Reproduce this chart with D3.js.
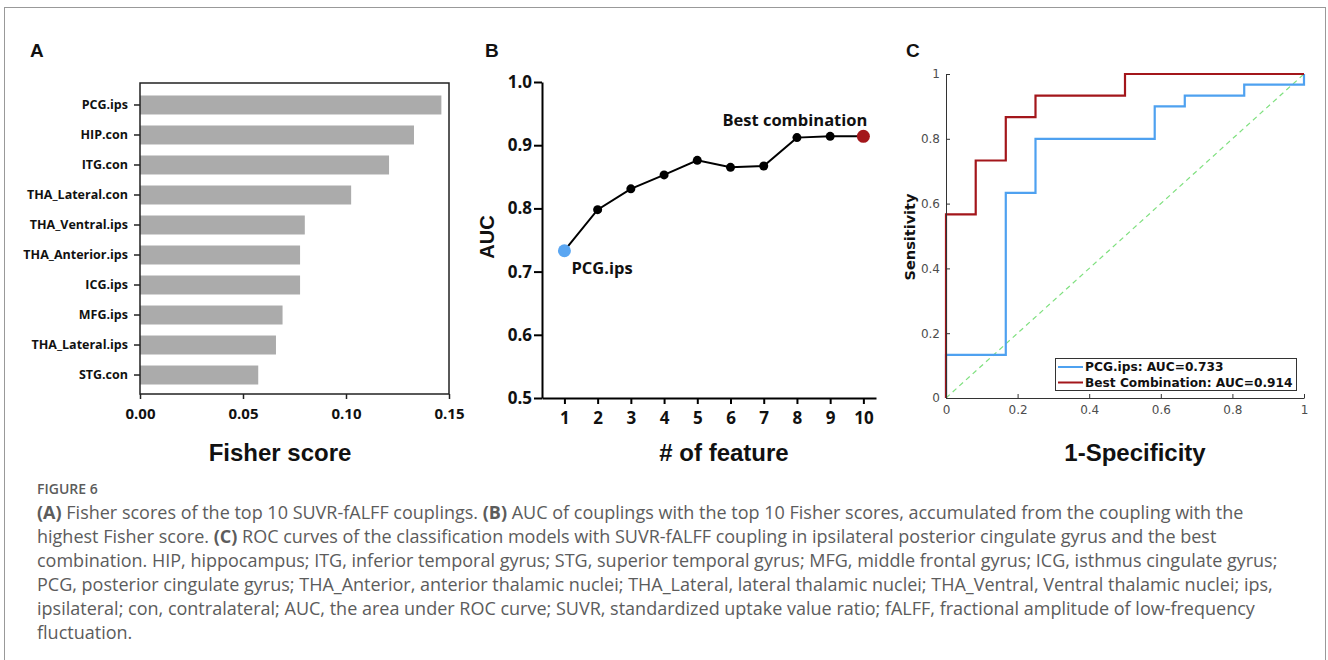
<!DOCTYPE html>
<html>
<meta charset="UTF-8">
<style>
body { margin: 0; background: #fff; }
svg { display: block; }

.axisA text { font-family: "Open Sans"; font-weight: bold; fill: #111; }
.axisA line { stroke: #222; stroke-width: 1.5px; }
.axisB text { font-family: "Open Sans"; font-weight: bold; fill: #111; font-size: 17px; }
.axisB line, .axisB path { stroke: #000; stroke-width: 2px; }
.axisC text { font-family: "DejaVu Sans"; font-size: 12px; fill: #4d4d4d; }
.axisC line, .axisC path { stroke: #333; stroke-width: 1px; }

.title { font-family: "Liberation Sans"; font-weight: bold; fill: #111; }
.caption { font-family: "Open Sans"; font-size: 18px; fill: #5c5c5c; }
</style>
<svg width="1328" height="660"></svg>
<script src="https://d3js.org/d3.v7.min.js"></script>
<script>
//	panel A : fisher scores
var regions = ["PCG.ips", "HIP.con", "ITG.con", "THA_Lateral.con", "THA_Ventral.ips",
	"THA_Anterior.ips", "ICG.ips", "MFG.ips", "THA_Lateral.ips", "STG.con"];
var fisherScores = [0.1463, 0.1330, 0.1209, 0.1025, 0.0800, 0.0777, 0.0777, 0.0692, 0.0660, 0.0574];
var fisherTicks = [0, 0.05, 0.10, 0.15];

//	panel B : AUC by number of features
var featureCounts = [1, 2, 3, 4, 5, 6, 7, 8, 9, 10];
var aucValues = [0.733, 0.798, 0.831, 0.853, 0.876, 0.865, 0.867, 0.912, 0.914, 0.914];
var aucTicks = [0.5, 0.6, 0.7, 0.8, 0.9, 1.0];

//	panel C : ROC corner points (step after)
var pcgFpr = [0, 0, 0.167, 0.25, 0.583, 0.667, 0.833, 1];
var pcgTpr = [0, 0.133, 0.633, 0.8, 0.9, 0.933, 0.967, 1];
var bestFpr = [0, 0, 0.083, 0.167, 0.25, 0.5, 1];
var bestTpr = [0, 0.567, 0.733, 0.867, 0.933, 1, 1];
var rocTicks = [0, 0.2, 0.4, 0.6, 0.8, 1];
var legendLabels = ["PCG.ips: AUC=0.733", "Best Combination: AUC=0.914"];
var rocColors = ["#4ea1f0", "#a3161b"];

//	caption
var captionHead = "FIGURE 6";
var captionLines = [
	"(A) Fisher scores of the top 10 SUVR-fALFF couplings. (B) AUC of couplings with the top 10 Fisher scores, accumulated from the coupling with the",
	"highest Fisher score. (C) ROC curves of the classification models with SUVR-fALFF coupling in ipsilateral posterior cingulate gyrus and the best",
	"combination. HIP, hippocampus; ITG, inferior temporal gyrus; STG, superior temporal gyrus; MFG, middle frontal gyrus; ICG, isthmus cingulate gyrus;",
	"PCG, posterior cingulate gyrus; THA_Anterior, anterior thalamic nuclei; THA_Lateral, lateral thalamic nuclei; THA_Ventral, Ventral thalamic nuclei; ips,",
	"ipsilateral; con, contralateral; AUC, the area under ROC curve; SUVR, standardized uptake value ratio; fALFF, fractional amplitude of low-frequency",
	"fluctuation."
];

var svg = d3.select("svg");

//	outer frame
svg.append("rect")
	.attr("x", 4.5).attr("y", 7.5)
	.attr("width", 1321).attr("height", 700)
	.attr("fill", "none").attr("stroke", "#999");

//	panel letters
[["A", 30], ["B", 485], ["C", 906]].forEach(function(p) {
	svg.append("text").attr("class", "title")
		.attr("x", p[1]).attr("y", 57)
		.style("font-size", "19px")
		.text(p[0]);
});

// ---------- panel A ----------
var gA = svg.append("g");
var xA = d3.scaleLinear().domain([0, 0.15]).range([140, 449]);
var yA = d3.scaleBand().domain(regions).range([90, 390])
	.paddingInner(0.367).paddingOuter(0.183);

gA.selectAll(".bar")
	.data(regions)
	.enter().append("rect")
	.attr("class", "bar")
	.attr("x", xA(0))
	.attr("y", function(d) { return yA(d); })
	.attr("width", function(d, i) { return xA(fisherScores[i]) - xA(0); })
	.attr("height", yA.bandwidth())
	.attr("fill", "#ababab");

gA.append("rect")
	.attr("x", 140).attr("y", 83)
	.attr("width", 309).attr("height", 311)
	.attr("fill", "none").attr("stroke", "#222").attr("stroke-width", 1.5);

gA.append("g").attr("class", "axisA")
	.attr("transform", "translate(140,0)")
	.call(d3.axisLeft(yA).tickSize(6).tickPadding(6))
	.call(function(g) { g.select(".domain").remove(); })
	.selectAll("text").style("font-size", "12.5px");

gA.append("g").attr("class", "axisA")
	.attr("transform", "translate(0,394)")
	.call(d3.axisBottom(xA).tickValues(fisherTicks).tickFormat(d3.format(".2f")).tickSize(5).tickPadding(9))
	.call(function(g) { g.select(".domain").remove(); })
	.selectAll("text").style("font-size", "15px");

gA.append("text").attr("class", "title")
	.attr("x", 280).attr("y", 461)
	.attr("text-anchor", "middle")
	.style("font-size", "24px")
	.text("Fisher score");

// ---------- panel B ----------
var gB = svg.append("g");
var xB = d3.scaleLinear().domain([0.325, 10.38]).range([542, 876]);
var yB = d3.scaleLinear().domain([0.5, 1.0]).range([398, 82]);

gB.append("g").attr("class", "axisB")
	.attr("transform", "translate(0,398)")
	.call(d3.axisBottom(xB).tickValues(featureCounts).tickSize(6).tickSizeOuter(0).tickPadding(8));

gB.append("g").attr("class", "axisB")
	.attr("transform", "translate(542,0)")
	.call(d3.axisLeft(yB).tickValues(aucTicks).tickFormat(d3.format(".1f")).tickSize(8).tickSizeOuter(0).tickPadding(2));

var lineB = d3.line()
	.x(function(d, i) { return xB(featureCounts[i]); })
	.y(function(d) { return yB(d); });

gB.append("path")
	.datum(aucValues)
	.attr("d", lineB)
	.attr("fill", "none")
	.attr("stroke", "#000")
	.attr("stroke-width", 2);

gB.selectAll(".dot")
	.data(aucValues)
	.enter().append("circle")
	.attr("class", "dot")
	.attr("cx", function(d, i) { return xB(featureCounts[i]); })
	.attr("cy", function(d) { return yB(d); })
	.attr("r", function(d, i) { return (i === 0 || i === aucValues.length - 1) ? 6.5 : 4.5; })
	.attr("fill", function(d, i) {
		if (i === 0) return "#5aa6f2";
		if (i === aucValues.length - 1) return "#a3161b";
		return "#000";
	});

gB.append("text")
	.attr("x", xB(featureCounts[0]) + 7).attr("y", yB(aucValues[0]) + 23)
	.style("font-family", "Open Sans").style("font-weight", "bold").style("font-size", "16.5px")
	.attr("fill", "#111")
	.text("PCG.ips");

gB.append("text")
	.attr("x", xB(featureCounts[9]) + 4).attr("y", yB(aucValues[9]) - 10)
	.attr("text-anchor", "end")
	.style("font-family", "Open Sans").style("font-weight", "bold").style("font-size", "16.5px")
	.attr("fill", "#111")
	.text("Best combination");

gB.append("text").attr("class", "title")
	.attr("transform", "translate(494,237) rotate(-90)")
	.attr("text-anchor", "middle")
	.style("font-size", "20px")
	.text("AUC");

gB.append("text").attr("class", "title")
	.attr("x", 724).attr("y", 461)
	.attr("text-anchor", "middle")
	.style("font-size", "24px")
	.text("# of feature");

// ---------- panel C ----------
var gC = svg.append("g");
var xC = d3.scaleLinear().domain([0, 1]).range([946, 1304]);
var yC = d3.scaleLinear().domain([0, 1]).range([398, 74]);

gC.append("line")
	.attr("x1", xC(0)).attr("y1", yC(0))
	.attr("x2", xC(1)).attr("y2", yC(1))
	.attr("stroke", "#7fe07f")
	.attr("stroke-width", 1.2)
	.attr("stroke-dasharray", "5,4");

var stepLine = d3.line()
	.curve(d3.curveStepAfter)
	.x(function(d) { return xC(d[0]); })
	.y(function(d) { return yC(d[1]); });

var rocSets = [d3.zip(pcgFpr, pcgTpr), d3.zip(bestFpr, bestTpr)];
gC.selectAll(".roc")
	.data(rocSets)
	.enter().append("path")
	.attr("class", "roc")
	.attr("d", stepLine)
	.attr("fill", "none")
	.attr("stroke", function(d, i) { return rocColors[i]; })
	.attr("stroke-width", 2.2);

gC.append("g").attr("class", "axisC")
	.attr("transform", "translate(0,398)")
	.call(d3.axisBottom(xC).tickValues(rocTicks).tickFormat(function(d) { return d; })
		.tickSize(-4).tickSizeOuter(0).tickPadding(7));

gC.append("g").attr("class", "axisC")
	.attr("transform", "translate(946,0)")
	.call(d3.axisLeft(yC).tickValues(rocTicks).tickFormat(function(d) { return d; })
		.tickSize(-4).tickSizeOuter(0).tickPadding(6));

//	legend
var legend = gC.append("g");
legend.append("rect")
	.attr("x", 1055.5).attr("y", 358.5)
	.attr("width", 241).attr("height", 32)
	.attr("fill", "#fff").attr("stroke", "#333");

legend.selectAll(".legline")
	.data(legendLabels)
	.enter().append("line")
	.attr("x1", 1058).attr("x2", 1083)
	.attr("y1", function(d, i) { return 367 + i * 15.5; })
	.attr("y2", function(d, i) { return 367 + i * 15.5; })
	.attr("stroke", function(d, i) { return rocColors[i]; })
	.attr("stroke-width", 2);

legend.selectAll(".legtext")
	.data(legendLabels)
	.enter().append("text")
	.attr("x", 1085)
	.attr("y", function(d, i) { return 371 + i * 15.5; })
	.style("font-family", "DejaVu Sans").style("font-weight", "bold").style("font-size", "12.2px")
	.attr("fill", "#111")
	.text(function(d) { return d; });

gC.append("text")
	.attr("transform", "translate(915,237) rotate(-90)")
	.attr("text-anchor", "middle")
	.style("font-family", "DejaVu Sans").style("font-weight", "bold").style("font-size", "14.5px")
	.attr("fill", "#111")
	.text("Sensitivity");

gC.append("text").attr("class", "title")
	.attr("x", 1135).attr("y", 461)
	.attr("text-anchor", "middle")
	.style("font-size", "24px")
	.text("1-Specificity");

// ---------- caption ----------
svg.append("text").attr("class", "caption")
	.attr("x", 37).attr("y", 494)
	.style("font-size", "14px").style("font-weight", "600")
	.text(captionHead);

captionLines.forEach(function(line, i) {
	var t = svg.append("text").attr("class", "caption")
		.attr("x", 37).attr("y", 519 + i * 24);
	line.split(/(\([ABC]\))/).forEach(function(part) {
		if (!part) return;
		t.append("tspan")
			.style("font-weight", /^\([ABC]\)$/.test(part) ? "bold" : "normal")
			.text(part);
	});
});
</script>
